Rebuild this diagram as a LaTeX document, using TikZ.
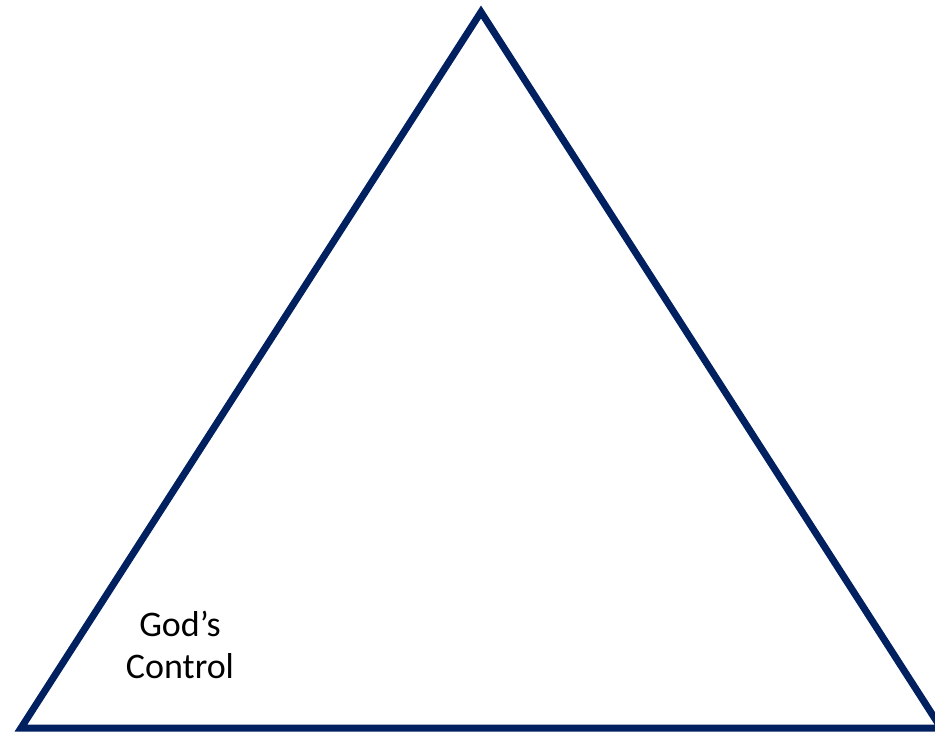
\documentclass[tikz,border=0pt]{standalone}
\usepackage{fontspec}
\setmainfont{Carlito}
\definecolor{navy}{HTML}{002060}
\begin{document}
\begin{tikzpicture}[x=1pt,y=1pt,
  tri/.style={draw=navy,line width=7pt,line join=miter},
  lbl/.style={font=\fontsize{36}{42}\selectfont,align=center,inner sep=0pt,text=black}]
\useasboundingbox (0,0) rectangle (935,732);
\clip (0,0) rectangle (935,732);
\coordinate (apex) at (481,720);
\coordinate (bl) at (21,4);
\coordinate (br) at (941,4);
\draw[tri] (apex) -- (bl) -- (br) -- cycle;
\node[lbl] (gc) at (180,87) {God’s\\Control};
\end{tikzpicture}
\end{document}
